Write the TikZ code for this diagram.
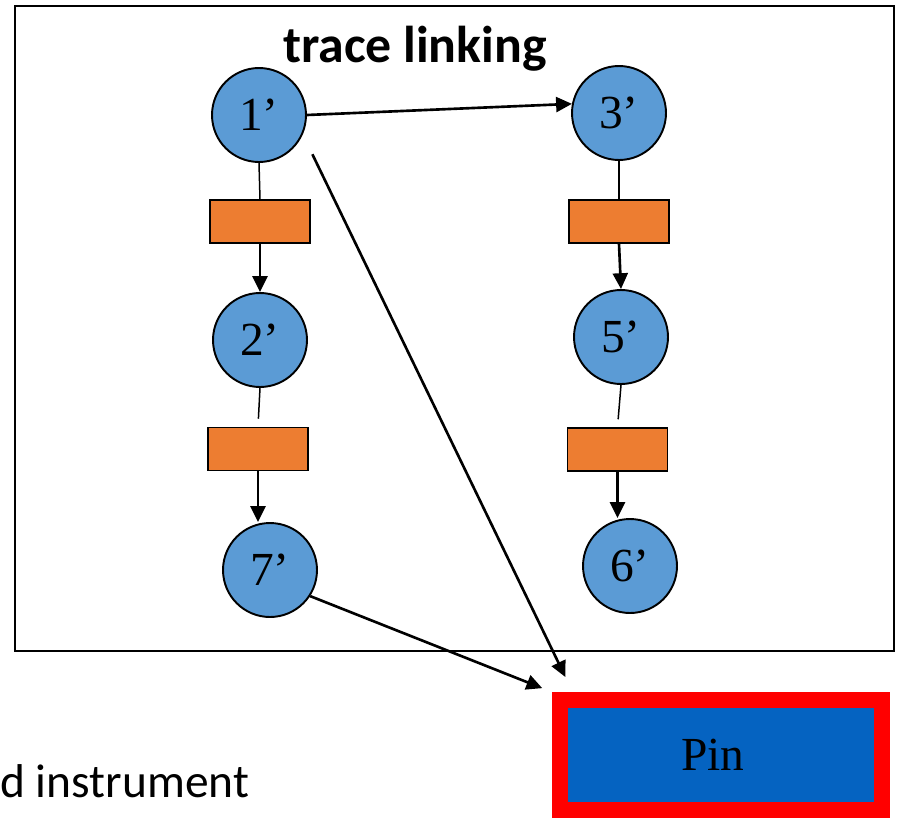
\documentclass[tikz,border=0pt]{standalone}
\usepackage{fontspec}
\setmainfont{Liberation Serif}
\newfontfamily\calibri{Carlito}
\usetikzlibrary{arrows.meta}

\definecolor{stateblue}{HTML}{5B9BD5}
\definecolor{steporange}{HTML}{ED7D31}
\definecolor{pinblue}{HTML}{0563C1}

\tikzset{
  state/.style={circle, draw=black, line width=1.1pt, fill=stateblue,
    minimum size=1.88cm, inner sep=0pt, font=\fontsize{27}{30}\selectfont},
  stepbox/.style={rectangle, draw=black, line width=1pt, fill=steporange,
    minimum width=2cm, minimum height=0.86cm, inner sep=0pt},
  pinbox/.style={rectangle, draw=red, line width=9.07pt, fill=pinblue,
    minimum width=6.44cm, minimum height=2.2cm, inner sep=0pt,
    font=\fontsize{27}{30}\selectfont},
  link/.style={draw=black, line width=0.85pt},
  flow/.style={draw=black, line width=1.5pt,
    -{Triangle[length=9pt,width=8.5pt]}},
}

\begin{document}
\begin{tikzpicture}[x=0.02cm, y=-0.02cm]
  \useasboundingbox (0,0) rectangle (899,818);

  % enclosing frame and its heading
  \draw[line width=1.5pt] (15,6) rectangle (894,651);
  \node[anchor=base, inner sep=0pt, font=\calibri\bfseries\fontsize{29.5}{34}\selectfont]
    (title) at (415,62) {trace linking};

  % left chain
  \node[state] (n1) at (259,115) {1’};
  \node[stepbox] (r1) at (260,221.5) {};
  \node[state] (n2) at (260,340) {2’};
  \node[stepbox] (r2) at (258,449) {};
  \node[state] (n7) at (270,570) {7’};

  % right chain
  \node[state] (n3) at (619,113) {3’};
  \node[stepbox] (r3) at (619,221.5) {};
  \node[state] (n5) at (621,337) {5’};
  \node[stepbox] (r4) at (617.5,449.5) {};
  \node[state] (n6) at (630,566) {6’};

  % pin and caption
  \node[pinbox] (pin) at (721,755) {Pin\hspace*{0.32cm}};
  \node[anchor=base west, inner sep=0pt, font=\calibri\fontsize{27}{32}\selectfont]
    (caption) at (0,797) {d instrument};

  % vertical links
  \draw[link] (n1.south) -- (r1.north);
  \draw[flow] (r1.south) -- (n2.north);
  \draw[link, shorten >=4.5pt] (n2.south) -- (r2.north);
  \draw[flow] (r2.south) -- (r2.south |- n7.north);

  \draw[link] (n3.south) -- (r3.north);
  \draw[flow] (r3.south) -- (n5.north);
  \draw[link, shorten >=4.5pt] (n5.south) -- (r4.north);
  \draw[flow] (r4.south) -- (r4.south |- n6.north);

  % cross links
  \draw[flow] (n1.east) -- (n3.169);
  \draw[flow, shorten <=12.5pt, shorten >=9.5pt] (n1.-24) -- (pin.157);
  \draw[flow, shorten >=6pt] (n7.-33) -- (pin.north west);
\end{tikzpicture}
\end{document}
